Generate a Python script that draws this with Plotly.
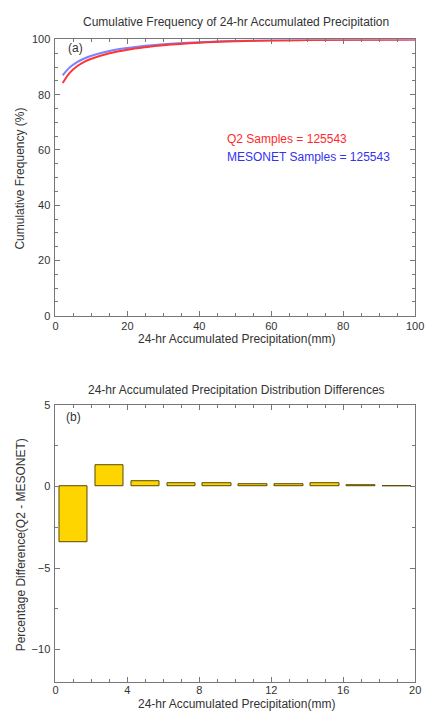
import plotly.graph_objects as go

# Panel (a): cumulative frequency curves
precip_mm = [2, 4, 6, 8, 10, 15, 20, 25, 30, 40, 50, 60, 70, 80, 90, 100]
q2_cumfreq = [84.2, 88.0, 90.3, 91.9, 93.0, 95.0, 96.3, 97.2, 97.9, 98.8, 99.3, 99.6, 99.75, 99.85, 99.92, 100.0]
mesonet_cumfreq = [87.0, 89.9, 91.8, 93.1, 94.1, 95.8, 96.9, 97.7, 98.3, 99.0, 99.45, 99.7, 99.82, 99.9, 99.95, 100.0]

# Panel (b): distribution differences per 2-mm bin
bin_centers = [1, 3, 5, 7, 9, 11, 13, 15, 17, 19]
pct_diff = [-3.4, 1.34, 0.32, 0.18, 0.18, 0.12, 0.12, 0.24, 0.1, 0.02]

FONT = "Liberation Sans, Arial, sans-serif"
AX = "#777777"
TXT = "#333333"
FS = 12
TFS = 11

W, H = 430, 717


def px(X):
    return X / W


def py(Y):
    return 1 - Y / H


fig = go.Figure()
fig.add_trace(go.Scatter(x=precip_mm, y=mesonet_cumfreq, mode="lines",
                         line=dict(color="#7a82ff", width=2, shape="spline"),
                         xaxis="x", yaxis="y", showlegend=False))
fig.add_trace(go.Scatter(x=precip_mm, y=q2_cumfreq, mode="lines",
                         line=dict(color="#ff3535", width=2, shape="spline"),
                         xaxis="x", yaxis="y", showlegend=False))
fig.add_trace(go.Bar(x=bin_centers, y=pct_diff, width=1.6,
                     marker=dict(color="#FFD500", line=dict(color="#5a4a00", width=1)),
                     xaxis="x2", yaxis="y2", showlegend=False))

common = dict(showline=True, linecolor=AX, linewidth=1, mirror="ticks",
              ticks="inside", ticklen=5, tickcolor=AX, showgrid=False, zeroline=False,
              ticklabeloverflow="allow",
              tickfont=dict(family=FONT, size=TFS, color=TXT))

xdom = [px(54), px(424)]

fig.update_layout(
    width=W, height=H,
    margin=dict(l=0, r=0, t=0, b=0),
    paper_bgcolor="white", plot_bgcolor="white",
    font=dict(family=FONT, size=FS, color=TXT),
    bargap=0,
    xaxis=dict(domain=xdom, anchor="y", range=[0, 100], tick0=0, dtick=20,
               minor=dict(dtick=5, ticks="inside", ticklen=3, tickcolor=AX),
               **common),
    yaxis=dict(domain=[py(315), py(34)], anchor="x", range=[0, 100], tick0=0, dtick=20,
               minor=dict(dtick=5, ticks="inside", ticklen=3, tickcolor=AX),
               ticklabelstandoff=2,
               **common),
    xaxis2=dict(domain=xdom, anchor="y2", range=[0, 20], tick0=0, dtick=4,
                minor=dict(dtick=1, ticks="inside", ticklen=3, tickcolor=AX),
                ticklabelstandoff=-2,
                **common),
    yaxis2=dict(domain=[py(687.5), py(406)], anchor="x2", range=[-12, 5], tick0=0, dtick=5,
                minor=dict(dtick=2.5, ticks="inside", ticklen=3, tickcolor=AX),
                ticklabelstandoff=2,
                **common),
)

ann_font = dict(family=FONT, size=FS, color=TXT)
annotations = [
    dict(text="Cumulative Frequency of 24-hr Accumulated Precipitation",
         x=px(240), y=py(16)),
    dict(text="24-hr Accumulated Precipitation Distribution Differences",
         x=px(240), y=py(391)),
    dict(text="24-hr Accumulated Precipitation(mm)", x=px(240), y=py(338.5)),
    dict(text="24-hr Accumulated Precipitation(mm)", x=px(240), y=py(710)),
    dict(text="Cumulative Frequency (%)", x=px(18), y=py(175), textangle=-90),
    dict(text="Percentage Difference(Q2 - MESONET)", x=px(18), y=py(548), textangle=-90),
]
for a in annotations:
    fig.add_annotation(xref="paper", yref="paper", showarrow=False,
                       xanchor="center", yanchor="middle", font=ann_font, **a)

fig.add_annotation(text="(a)", xref="x", yref="y", x=2.8, y=96.8, showarrow=False,
                   xanchor="left", yanchor="middle", font=ann_font)
fig.add_annotation(text="(b)", xref="x2", yref="y2", x=0.45, y=4.3, showarrow=False,
                   xanchor="left", yanchor="middle", font=ann_font)
fig.add_annotation(text="Q2 Samples = 125543", xref="x", yref="y", x=47, y=64, showarrow=False,
                   xanchor="left", yanchor="middle", font=dict(family=FONT, size=FS, color="#ff2a2a"))
fig.add_annotation(text="MESONET Samples = 125543", xref="x", yref="y", x=47, y=57.6, showarrow=False,
                   xanchor="left", yanchor="middle", font=dict(family=FONT, size=FS, color="#3333ee"))

fig.write_html("out.html", config={"displayModeBar": False},
               post_script="document.body.style.margin='0px';")
